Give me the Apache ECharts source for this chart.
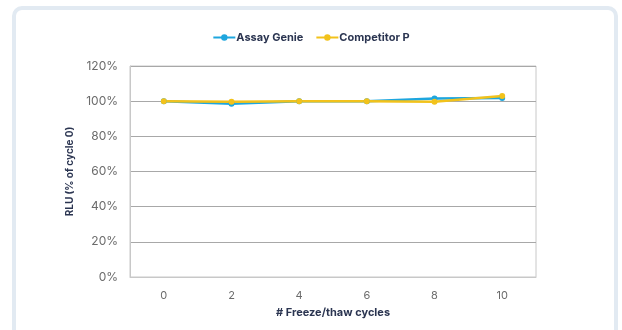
<!DOCTYPE html>
<html>
<head>
<meta charset="utf-8">
<script src="https://cdn.jsdelivr.net/npm/echarts@6/dist/echarts.min.js"></script>
<style>
html,body{margin:0;padding:0;background:#fff;}
#card{position:absolute;left:12px;top:6px;width:606px;height:340px;border:4px solid #e2eaf2;border-radius:10px;box-sizing:border-box;background:#fff;}
#chart{position:absolute;left:0;top:0;width:622px;height:330px;}
</style>
</head>
<body>
<div id="card"></div>
<div id="chart"></div>
<script>
const categories = ['0','2','4','6','8','10'];
const assayGenie = [100, 98.6, 100, 100, 101.5, 101.8];
const competitorP = [100, 99.6, 100, 99.9, 99.6, 103];
const yTicks = [0, 20, 40, 60, 80, 100, 120];

const chart = echarts.init(document.getElementById('chart'), null, {renderer:'canvas'});
const font = 'Inter, "Noto Sans", sans-serif';
chart.setOption({
  backgroundColor: 'transparent',
  animation: false,
  legend: {
    top: 27, left: 'center',
    itemWidth: 22, itemHeight: 8, itemGap: 12,
    textStyle: {fontFamily: font, fontWeight: 'bold', fontSize: 11, color: '#2b3551', padding: [0, 0, 0, -4]},
    data: ['Assay Genie', 'Competitor P']
  },
  grid: {left: 130, right: 86, top: 66, bottom: 53},
  xAxis: {
    type: 'category', data: categories, boundaryGap: true,
    name: '# Freeze/thaw cycles', nameLocation: 'middle', nameGap: 30,
    nameTextStyle: {fontFamily: font, fontWeight: 'bold', fontSize: 11, color: '#2b3551'},
    axisLine: {show: true, lineStyle: {color: '#c8c8c8', width: 1}},
    axisTick: {show: false},
    axisLabel: {fontFamily: font, fontSize: 11, color: '#6b6b6b', margin: 13}
  },
  yAxis: {
    type: 'value', min: yTicks[0], max: yTicks[yTicks.length-1], interval: 20,
    name: 'RLU (% of cycle 0)', nameLocation: 'middle', nameGap: 52, nameRotate: 90,
    nameTextStyle: {fontFamily: font, fontWeight: 'bold', fontSize: 10, color: '#2b3551'},
    axisLine: {show: true, lineStyle: {color: '#c8c8c8'}},
    axisTick: {show: false},
    axisLabel: {fontFamily: font, fontSize: 12, color: '#6b6b6b', margin: 12, formatter: v => v + '%'},
    splitLine: {show: true, lineStyle: {color: '#a8a8a8', width: 1}}
  },
  series: [
    {
      name: 'Assay Genie', type: 'line', data: assayGenie,
      symbol: 'circle', symbolSize: 6,
      lineStyle: {color: '#1ea6de', width: 2.5},
      itemStyle: {color: '#1ea6de'}
    },
    {
      name: 'Competitor P', type: 'line', data: competitorP,
      symbol: 'circle', symbolSize: 6,
      lineStyle: {color: '#f2c21b', width: 2.5},
      itemStyle: {color: '#f2c21b'}
    }
  ],
  graphic: [{
    type: 'rect', silent: true, z: 0,
    shape: {x: 130, y: 66, width: 622-86-130, height: 330-53-66},
    style: {fill: 'none', stroke: '#c8c8c8', lineWidth: 1}
  }]
});
</script>
</body>
</html>
